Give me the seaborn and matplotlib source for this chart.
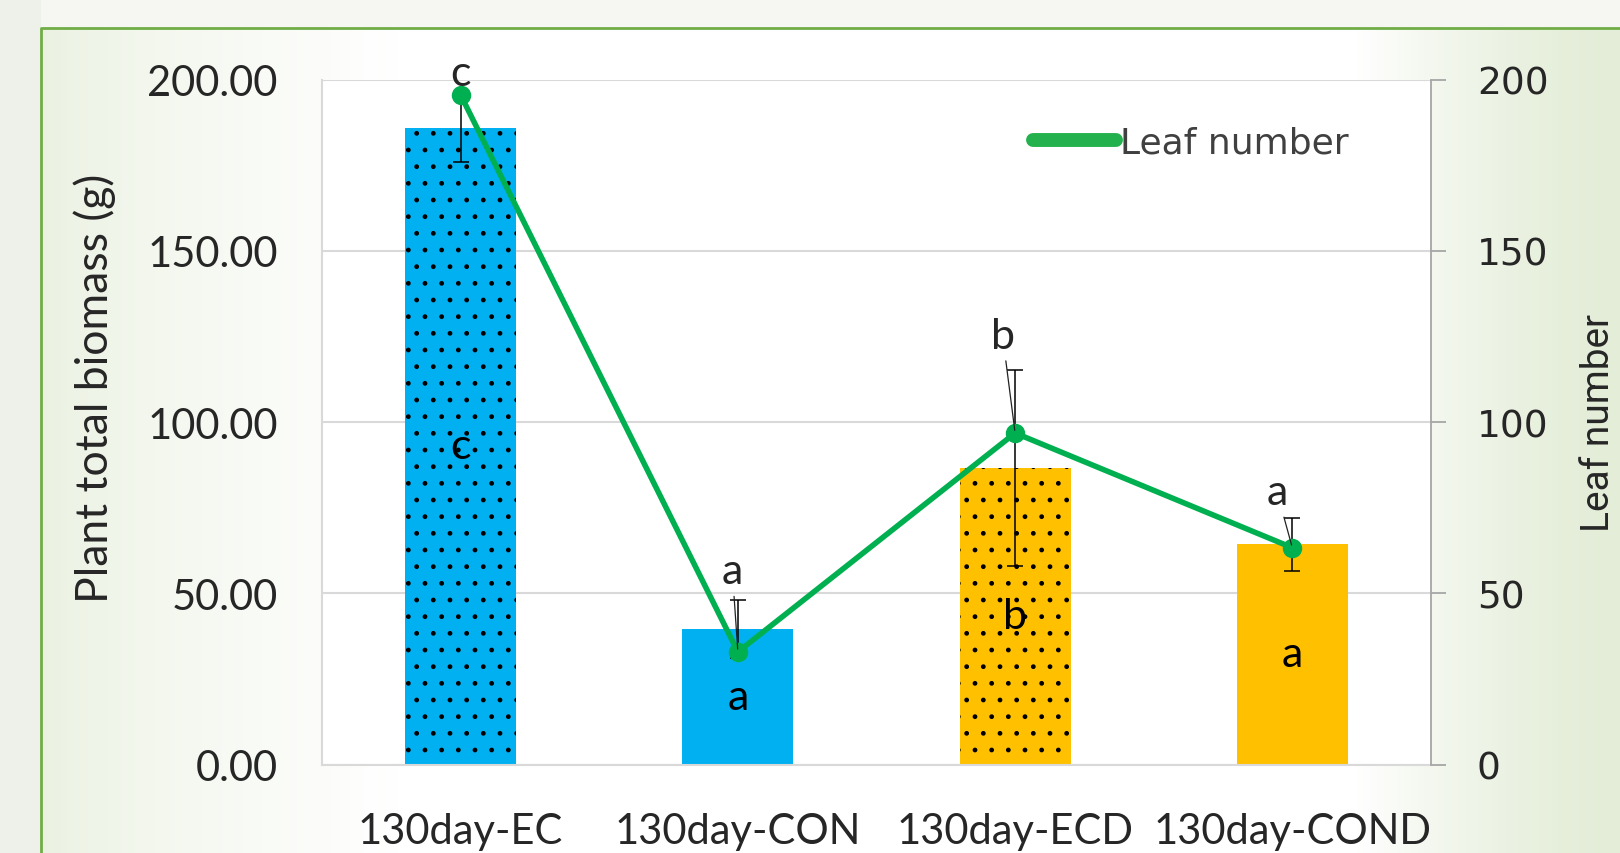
import numpy as np
import pandas as pd
import matplotlib
matplotlib.use('Agg')
import matplotlib.pyplot as plt
import seaborn as sns
from matplotlib.lines import Line2D
from matplotlib.patches import Rectangle
from matplotlib.colors import LinearSegmentedColormap

categories = ['130day-EC', '130day-CON', '130day-ECD', '130day-COND']
biomass = [185.8, 39.5, 86.6, 64.3]
biomass_err = [9.8, 8.5, 28.5, 7.7]
leaf_number = [195.5, 32.9, 96.8, 63.3]
biomass_letters = ['c', 'a', 'b', 'a']
leaf_letters = ['c', 'a', 'b', 'a']
bar_colors = ['#00B0F0', '#00B0F0', '#FFC000', '#FFC000']
hatched = [True, False, True, False]

df = pd.DataFrame({'group': categories, 'biomass': biomass, 'leaf': leaf_number})

sns.set_style('white')
plt.rcParams['font.family'] = ['Lato', 'DejaVu Sans']
plt.rcParams['hatch.linewidth'] = 1.0

fig = plt.figure(figsize=(16.2, 8.54), dpi=100)

# background gradient + green frame
bg = fig.add_axes([0, 0, 1, 1], zorder=-5)
grad = np.concatenate([np.linspace(0, 1, 60) ** 0.6, np.ones(140), np.linspace(1, 0, 40) ** 1.5])
cmap = LinearSegmentedColormap.from_list('bgc', ['#E4EDD8', '#FFFFFF'])
bg.imshow(grad[np.newaxis, :], aspect='auto', cmap=cmap, extent=[0, 1, 0, 1], vmin=0, vmax=1)
bg.add_patch(Rectangle((0, 0.966), 1, 0.034, color='#F6F7F3', lw=0))
bg.add_patch(Rectangle((0, 0), 41 / 1620, 1, color='#EEF1EA', lw=0))
bg.plot([41 / 1620, 41 / 1620, 1.0], [0, 0.966, 0.966], color='#70AD47', lw=2)
bg.set_xlim(0, 1)
bg.set_ylim(0, 1)
bg.axis('off')

ax = fig.add_axes([0.1988, 0.1036, 0.6845, 0.802])
sns.barplot(data=df, x='group', y='biomass', hue='group', palette=bar_colors,
            saturation=1, width=0.4, dodge=False, legend=False, ax=ax,
            errorbar=None, zorder=2)
for patch, h in zip(ax.patches, hatched):
    patch.set_linewidth(0)
    if h:
        patch.set_hatch('.')
        patch.set_edgecolor('black')
ax.errorbar(range(len(categories)), biomass, yerr=biomass_err, fmt='none',
            ecolor='black', elinewidth=1.1, capsize=6, capthick=1.1, zorder=3)
for i, (v, t) in enumerate(zip(biomass, biomass_letters)):
    ax.text(i, v / 2, t, ha='center', va='center', fontsize=31, color='black', zorder=4)

ax.set_ylim(0, 200)
ax.set_xlim(-0.5, 3.5)
ax.set_yticks(np.arange(0, 201, 50))
ax.set_yticklabels([f'{v:.2f}' for v in np.arange(0, 201, 50)])
ax.tick_params(axis='y', length=0, pad=32, labelsize=30)
ax.tick_params(axis='x', length=0, pad=34, labelsize=30)
ax.grid(axis='y', color='#D9D9D9', lw=1.5, zorder=0)
ax.set_axisbelow(True)
for s in ['left', 'bottom']:
    ax.spines[s].set_color('#D9D9D9')
    ax.spines[s].set_linewidth(1.5)
for s in ['top', 'right']:
    ax.spines[s].set_visible(False)
ax.set_xlabel('')
ax.set_ylabel('Plant total biomass (g)', fontsize=32)
ax.yaxis.set_label_coords(-0.186, 0.55)

ax2 = ax.twinx()
sns.pointplot(data=df, x='group', y='leaf', color='#00B050', markers='o',
              linestyles='-', errorbar=None, ax=ax2, markersize=11, linewidth=4)
ax2.set_ylim(0, 200)
ax2.set_xlim(-0.5, 3.5)
ax2.set_yticks(np.arange(0, 201, 50))
ax2.tick_params(axis='y', direction='out', length=11, width=1.3, color='#A6A6A6',
                pad=22, labelsize=27)
for lab in ax2.get_yticklabels():
    lab.set_family('DejaVu Sans')
for s in ['left', 'bottom', 'top']:
    ax2.spines[s].set_visible(False)
ax2.spines['right'].set_color('#A6A6A6')
ax2.spines['right'].set_linewidth(1.3)
ax2.set_xlabel('')
ax2.set_ylabel('Leaf number', fontsize=28,
               family=['Liberation Sans Narrow', 'Roboto', 'DejaVu Sans'])
ax2.yaxis.set_label_coords(1.134, 0.50)

offsets = [(0, 16), (-4, 58), (-9, 70), (-11, 40)]
for i, (v, t, off) in enumerate(zip(leaf_number, leaf_letters, offsets)):
    arrow = None if i == 0 else dict(arrowstyle='-', color='#222222', lw=0.9, shrinkA=2, shrinkB=2)
    ax2.annotate(t, xy=(i, v), xytext=off, textcoords='offset points', ha='center',
                 va='center', fontsize=31, arrowprops=arrow, zorder=6)

handle = Line2D([0], [0], color='#22B14C', lw=10, solid_capstyle='round')
leg = ax2.legend(handles=[handle], labels=['Leaf number'], loc='center left',
                 bbox_to_anchor=(0.641, 0.908), frameon=False, fontsize=26,
                 handlelength=2.3, handletextpad=0.12, borderpad=0, borderaxespad=0)
for txt in leg.get_texts():
    txt.set_color('#404040')
    txt.set_family('DejaVu Sans')

fig.savefig('out.png', dpi=100)
